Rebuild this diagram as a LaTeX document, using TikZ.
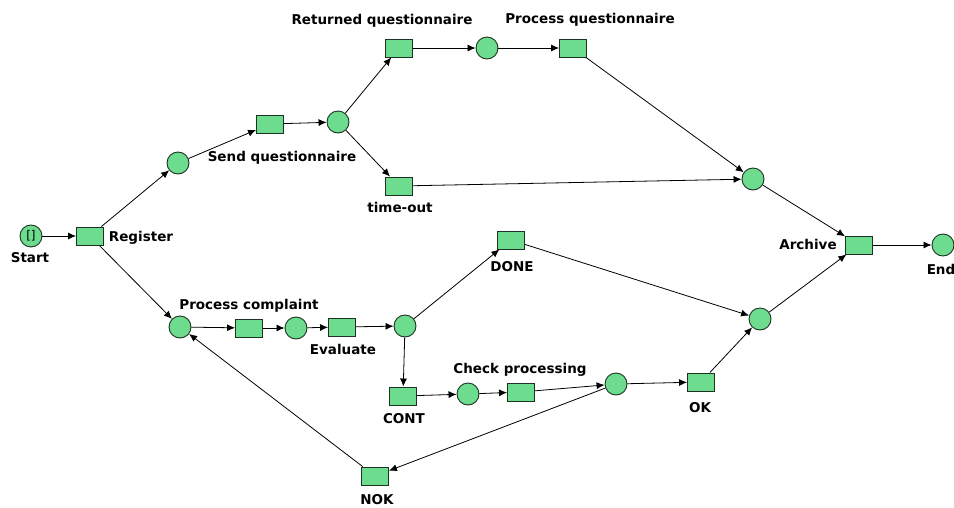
\documentclass[tikz,border=0pt]{standalone}
\usepackage{fontspec}
\setmainfont{DejaVu Sans}
\usetikzlibrary{arrows.meta}
\definecolor{netfill}{RGB}{110,220,142}
\definecolor{netline}{RGB}{30,50,35}
\begin{document}
\begin{tikzpicture}[x=1pt,y=-1pt,
  place/.style={circle,draw=netline,fill=netfill,line width=0.9pt,minimum size=22pt,inner sep=0pt},
  trans/.style={rectangle,draw=netline,fill=netfill,line width=0.9pt,minimum width=27pt,minimum height=18pt,inner sep=0pt},
  lbl/.style={font=\fontsize{13.5}{15}\selectfont\bfseries,inner sep=0pt},
  arc/.style={-{Latex[length=8pt,width=7pt]},line width=0.8pt,black}]
\useasboundingbox (0,0) rectangle (954,507);
% places
\node[place] (start) at (31,236) {\fontsize{12}{13}\selectfont[]};
\node[place] (p1) at (178,163) {};
\node[place] (p2) at (338,122) {};
\node[place] (p3) at (487,48) {};
\node[place] (p4) at (753,179) {};
\node[place] (end) at (943,245) {};
\node[place] (p5) at (180,327) {};
\node[place] (p6) at (296,328) {};
\node[place] (p7) at (405,326) {};
\node[place] (p8) at (468,394) {};
\node[place] (p9) at (616,384) {};
\node[place] (p10) at (760,319) {};
% transitions
\node[trans] (register) at (90,236) {};
\node[trans] (sendq) at (270,124) {};
\node[trans] (retq) at (399,48) {};
\node[trans] (procq) at (573,48) {};
\node[trans] (timeout) at (399,186) {};
\node[trans] (archive) at (859,245) {};
\node[trans] (procc) at (249,328) {};
\node[trans] (evaluate) at (342,327) {};
\node[trans] (done) at (511,240) {};
\node[trans] (cont) at (403,396) {};
\node[trans] (check) at (521,392) {};
\node[trans] (ok) at (701,382) {};
\node[trans] (nok) at (375,476) {};
% labels
\node[lbl] (l1) at (30,258) {Start};
\node[lbl] (l2) at (141,238) {Register};
\node[lbl] (l3) at (282,158) {Send questionnaire};
\node[lbl] (l4) at (382,21) {Returned questionnaire};
\node[lbl] (l5) at (590,20) {Process questionnaire};
\node[lbl] (l6) at (400,207) {time-out};
\node[lbl] (l7) at (808,244) {Archive};
\node[lbl] (l8) at (941,269) {End};
\node[lbl] (l9) at (512,267) {DONE};
\node[lbl] (l10) at (249,306) {Process complaint};
\node[lbl] (l11) at (343,349) {Evaluate};
\node[lbl] (l12) at (520,370) {Check processing};
\node[lbl] (l13) at (404,419) {CONT};
\node[lbl] (l14) at (700,408) {OK};
\node[lbl] (l15) at (377,500) {NOK};
% arcs
\draw[arc] (start) -- (register);
\draw[arc] (register) -- (p1);
\draw[arc] (register) -- (p5);
\draw[arc] (p1) -- (sendq);
\draw[arc] (sendq) -- (p2);
\draw[arc] (p2) -- (retq);
\draw[arc] (p2) -- (timeout);
\draw[arc] (retq) -- (p3);
\draw[arc] (p3) -- (procq);
\draw[arc] (procq) -- (p4);
\draw[arc] (timeout) -- (p4);
\draw[arc] (p4) -- (archive);
\draw[arc] (p10) -- (archive);
\draw[arc] (archive) -- (end);
\draw[arc] (p5) -- (procc);
\draw[arc] (procc) -- (p6);
\draw[arc] (p6) -- (evaluate);
\draw[arc] (evaluate) -- (p7);
\draw[arc] (p7) -- (done);
\draw[arc] (p7) -- (cont);
\draw[arc] (done) -- (p10);
\draw[arc] (cont) -- (p8);
\draw[arc] (p8) -- (check);
\draw[arc] (check) -- (p9);
\draw[arc] (p9) -- (ok);
\draw[arc] (p9) -- (nok);
\draw[arc] (ok) -- (p10);
\draw[arc] (nok) -- (p5);
\end{tikzpicture}
\end{document}
